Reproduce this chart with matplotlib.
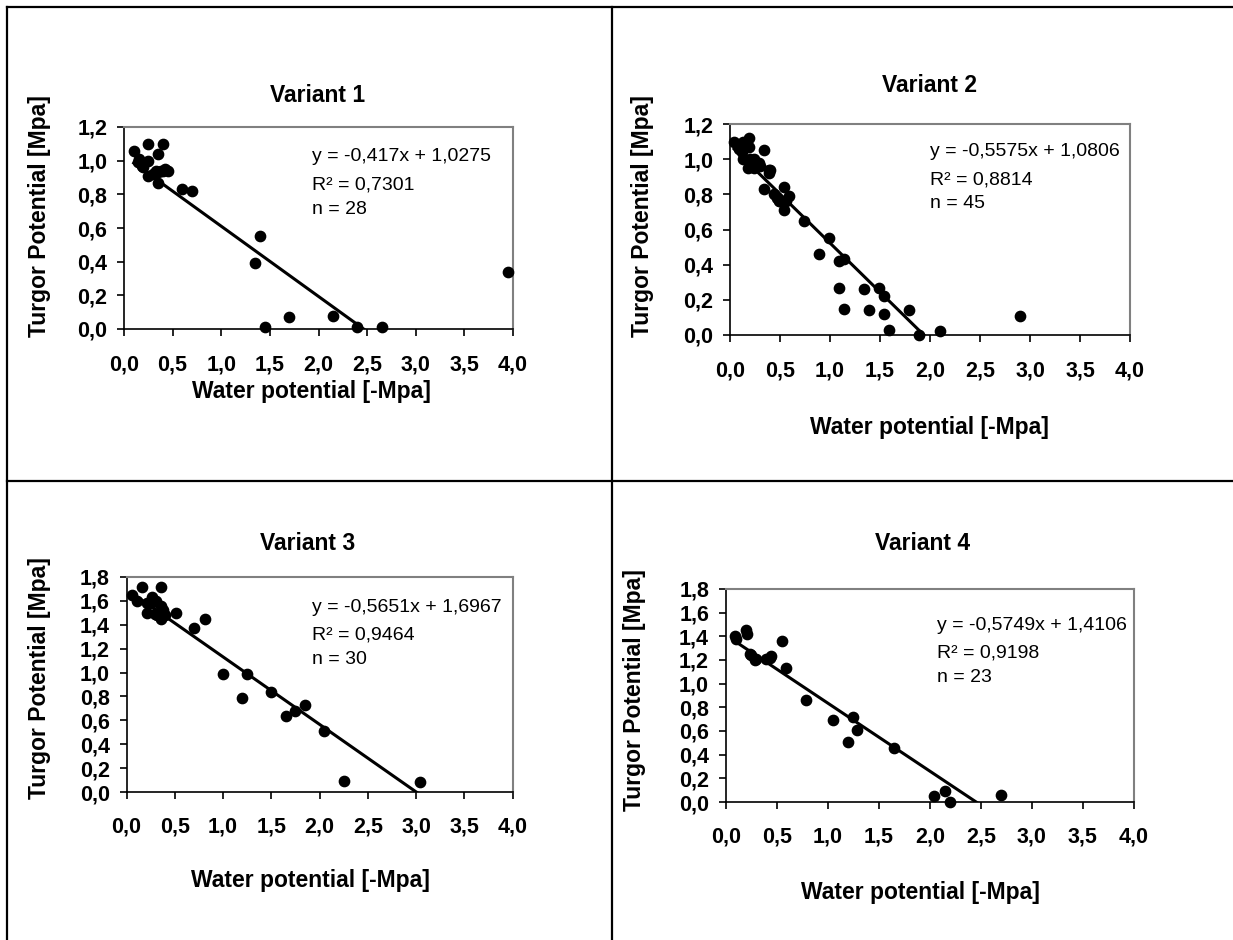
import numpy as np
import matplotlib
matplotlib.use("Agg")
import matplotlib.pyplot as plt
from matplotlib.lines import Line2D
from matplotlib.ticker import FuncFormatter, MultipleLocator

plt.rcParams['font.family'] = ['Liberation Sans', 'DejaVu Sans']

# ---- data ----
v1_x = [0.10, 0.15, 0.14, 0.25, 0.40, 0.25, 0.35, 0.20, 0.25, 0.35, 0.35, 0.40, 0.45,
        0.18, 0.30, 0.33, 0.38, 0.42,
        0.60, 0.70, 1.35, 1.40, 1.45, 1.70, 2.15, 2.40, 2.65, 3.95]
v1_y = [1.06, 1.01, 0.99, 1.10, 1.10, 1.00, 1.04, 0.96, 0.91, 0.87, 0.93, 0.94, 0.94,
        0.97, 0.92, 0.94, 0.94, 0.95,
        0.83, 0.82, 0.39, 0.55, 0.01, 0.07, 0.08, 0.01, 0.01, 0.34]

v2_x = [0.04, 0.09, 0.13, 0.19, 0.19, 0.13, 0.18, 0.24, 0.24, 0.29, 0.34, 0.39, 0.39,
        0.34, 0.44, 0.49, 0.54, 0.54, 0.59, 0.56, 0.74, 0.99, 0.89, 1.09, 1.14, 1.09,
        1.14, 1.34, 1.39, 1.49, 1.54, 1.54, 1.59, 1.79, 1.89, 2.10, 2.90,
        0.20, 0.26, 0.30, 0.12, 0.47, 0.50, 0.40, 0.22]
v2_y = [1.10, 1.06, 1.10, 1.12, 1.07, 1.00, 0.95, 1.00, 0.95, 0.98, 1.05, 0.94, 0.92,
        0.83, 0.80, 0.76, 0.84, 0.71, 0.79, 0.76, 0.65, 0.55, 0.46, 0.42, 0.43, 0.27,
        0.15, 0.26, 0.14, 0.27, 0.22, 0.12, 0.03, 0.14, 0.00, 0.02, 0.11,
        1.00, 0.98, 0.96, 1.04, 0.78, 0.76, 0.94, 0.96]

v3_x = [0.06, 0.11, 0.16, 0.21, 0.21, 0.26, 0.31, 0.36, 0.36, 0.30, 0.36, 0.40, 0.35,
        0.51, 0.70, 0.81, 1.00, 1.25, 1.20, 1.50, 1.65, 1.75, 1.85, 2.05, 2.25, 3.04,
        0.25, 0.32, 0.38, 0.28]
v3_y = [1.65, 1.60, 1.72, 1.50, 1.58, 1.63, 1.60, 1.72, 1.56, 1.49, 1.45, 1.48, 1.50,
        1.50, 1.37, 1.45, 0.99, 0.99, 0.79, 0.84, 0.64, 0.68, 0.73, 0.51, 0.09, 0.08,
        1.58, 1.48, 1.52, 1.60]

v4_x = [0.09, 0.20, 0.24, 0.29, 0.39, 0.44, 0.55, 0.59, 0.79, 1.05, 1.25, 1.29, 1.20,
        1.65, 2.04, 2.15, 2.20, 2.70,
        0.10, 0.25, 0.30, 0.43, 0.21]
v4_y = [1.40, 1.45, 1.25, 1.20, 1.21, 1.23, 1.36, 1.13, 0.86, 0.69, 0.72, 0.61, 0.51,
        0.46, 0.05, 0.09, 0.00, 0.06,
        1.38, 1.24, 1.21, 1.22, 1.42]

titles = ['Variant 1', 'Variant 2', 'Variant 3', 'Variant 4']
slopes = [-0.417, -0.5575, -0.5651, -0.5749]
intercepts = [1.0275, 1.0806, 1.6967, 1.4106]
eq_texts = ['y = -0,417x + 1,0275', 'y = -0,5575x + 1,0806',
            'y = -0,5651x + 1,6967', 'y = -0,5749x + 1,4106']
r2_texts = ['R² = 0,7301', 'R² = 0,8814', 'R² = 0,9464', 'R² = 0,9198']
n_texts = ['n = 28', 'n = 45', 'n = 30', 'n = 23']
y_tops = [1.2, 1.2, 1.8, 1.8]
xs_all = [v1_x, v2_x, v3_x, v4_x]
ys_all = [v1_y, v2_y, v3_y, v4_y]

W, H = 1233, 940
fig = plt.figure(figsize=(W / 100, H / 100), dpi=100)


def fx(x):
    return x / W


def fy(y):
    return 1 - y / H


# pixel boxes of the plot areas: left, top, right, bottom
boxes = [(124, 127, 513, 329), (730, 124, 1130, 335),
         (126.5, 577, 512.5, 792), (725.7, 589, 1134, 802)]
title_pos = [(318, 96), (930, 85), (308, 543), (923, 543)]
xlab_pos = [(311, 392), (929, 427), (310, 880), (920, 892)]
ylab_pos = [(40, 216), (642, 216), (40, 678), (634, 690)]
txt_pos = [(312, 157), (930, 152), (312, 607), (937, 625)]

comma = FuncFormatter(lambda v, p: ('%.1f' % v).replace('.', ','))

for i in range(4):
    l, t, r, b = boxes[i]
    ax = fig.add_axes([fx(l), fy(b), (r - l) / W, (b - t) / H])
    x = np.array(xs_all[i])
    y = np.array(ys_all[i])
    ax.scatter(x, y, s=55, color='black', zorder=3, clip_on=False)
    lx = np.array([x.min(), x.max()])
    ax.plot(lx, slopes[i] * lx + intercepts[i], color='black', lw=2.2, zorder=2)
    ax.set_xlim(0, 4)
    ax.set_ylim(0, y_tops[i])
    ax.xaxis.set_major_locator(MultipleLocator(0.5))
    ax.yaxis.set_major_locator(MultipleLocator(0.2))
    ax.xaxis.set_major_formatter(comma)
    ax.yaxis.set_major_formatter(comma)
    for s in ['top', 'right']:
        ax.spines[s].set_color('#808080')
        ax.spines[s].set_linewidth(1.5)
    for s in ['left', 'bottom']:
        ax.spines[s].set_color('black')
        ax.spines[s].set_linewidth(1.2)
    ax.tick_params(axis='x', direction='out', length=5, width=1.2, pad=13,
                   labelsize=15.5)
    ax.tick_params(axis='y', direction='out', length=5, width=1.2, pad=7,
                   labelsize=15.5)
    for lab in ax.get_xticklabels() + ax.get_yticklabels():
        lab.set_fontweight('bold')

    fig.text(fx(title_pos[i][0]), fy(title_pos[i][1]), titles[i], ha='center',
             va='center', fontsize=16.5, fontweight='bold')
    fig.text(fx(xlab_pos[i][0]), fy(xlab_pos[i][1]), 'Water potential [-Mpa]',
             ha='center', va='center', fontsize=16.5, fontweight='bold')
    fig.text(fx(ylab_pos[i][0]), fy(ylab_pos[i][1]), 'Turgor Potential [Mpa]',
             ha='center', va='center', rotation=90, fontsize=16.5, fontweight='bold')
    tx, ty = txt_pos[i]
    fig.text(fx(tx), fy(ty), eq_texts[i], ha='left', va='center', fontsize=14)
    fig.text(fx(tx), fy(ty + 28), r2_texts[i], ha='left', va='center', fontsize=14)
    fig.text(fx(tx), fy(ty + 52), n_texts[i], ha='left', va='center', fontsize=14)

# outer frame and dividers
for xs, ys in [((7, W), (7, 7)), ((7, 7), (7, H)), ((612, 612), (7, H)),
               ((7, W), (480.5, 480.5))]:
    fig.add_artist(Line2D([fx(xs[0]), fx(xs[1])], [fy(ys[0]), fy(ys[1])],
                          color='black', lw=1.6))

fig.savefig('out.png', dpi=100)
